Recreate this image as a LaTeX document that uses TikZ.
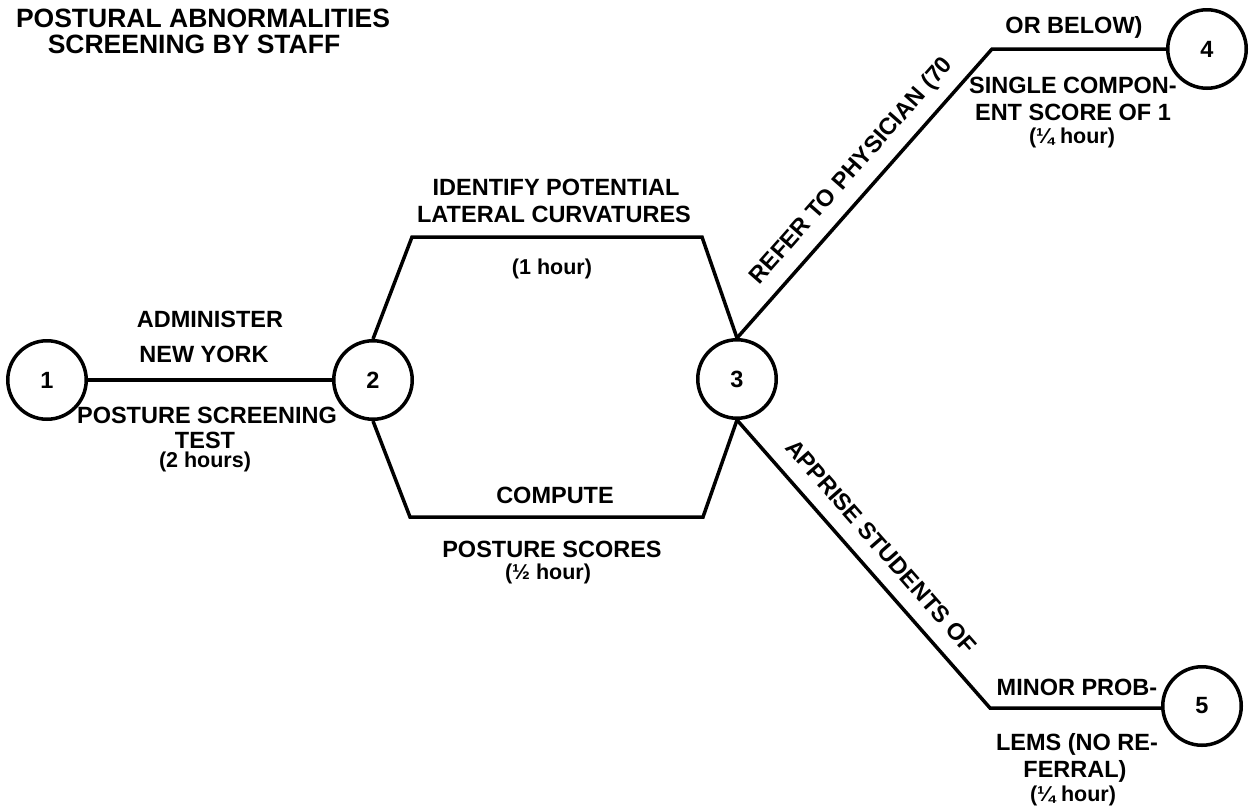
\documentclass[tikz,border=0pt]{standalone}
\usepackage{fontspec}
\setmainfont{Liberation Sans}
\usetikzlibrary{calc}
\begin{document}
\begin{tikzpicture}[x=1pt,y=-1pt,
  every node/.style={font=\bfseries\fontsize{23.5}{26}\selectfont, inner sep=0pt},
  lbl/.style={anchor=base},
  hrs/.style={anchor=base, font=\bfseries\fontsize{21.5}{24}\selectfont},
  ttl/.style={anchor=base, font=\bfseries\fontsize{26.5}{30}\selectfont},
  event/.style={draw, circle, line width=3.5pt, minimum size=78.5pt, inner sep=0pt},
  act/.style={line width=3.5pt, line join=miter}]
\useasboundingbox (0,0) rectangle (1254,807);

% title
\node[ttl] (t1) at (203,27) {POSTURAL ABNORMALITIES};
\node[ttl] (t2) at (194,53) {SCREENING BY STAFF};

% events
\node[event] (n1) at (47,380) {1};
\node[event] (n2) at (373,380) {2};
\node[event] (n3) at (737,379) {3};
\node[event] (n4) at (1207,49) {4};
\node[event] (n5) at (1202,706) {5};

% bends of the activity lines
\coordinate (tl) at (412,237);
\coordinate (tr) at (702,237);
\coordinate (bl) at (410,517);
\coordinate (br) at (703,517);
\coordinate (k4) at (992,49);
\coordinate (k5) at (990,708);

% activities
\draw[act] (n1) -- (n2);
\draw[act] (n2.north) -- (tl) -- (tr) -- (n3.north);
\draw[act] (n2.south) -- (bl) -- (br) -- (n3.south);
\draw[act] (n3.north) -- (k4) -- (k4 -| n4.west);
\draw[act] (n3.south) -- (k5) -- (k5 -| n5.west);

% activity 1-2
\node[lbl] (a1) at (210,327) {ADMINISTER};
\node[lbl] (a2) at (204,362) {NEW YORK};
\node[lbl] (a3) at (207,423) {POSTURE SCREENING};
\node[lbl] (a4) at (205,448) {TEST};
\node[hrs] (a5) at (205,467) {(2 hours)};

% activity 2-3, upper
\node[lbl] (b1) at (556,195) {IDENTIFY POTENTIAL};
\node[lbl] (b2) at (554,222) {LATERAL CURVATURES};
\node[hrs] (b3) at (552,274) {(1 hour)};

% activity 2-3, lower
\node[lbl] (c1) at (555,503) {COMPUTE};
\node[lbl] (c2) at (552,557) {POSTURE SCORES};
\node[hrs] (c3) at (548,579) {(½ hour)};

% activity 3-4
\coordinate (r1) at ($(n3.north)!201pt!(k4)$);
\node[lbl, rotate=48.6] (rf) at ($(r1)!18pt!90:(k4)$) {REFER TO PHYSICIAN (70};
\node[lbl] (d1) at (1074,33) {OR BELOW)};
\node[lbl] (d2) at (1073,93) {SINGLE COMPON-};
\node[lbl] (d3) at (1073,120) {ENT SCORE OF 1};
\node[hrs] (d4) at (1072,143) {(¼ hour)};

% activity 3-5
\coordinate (r2) at ($(n3.south)!190pt!(k5)$);
\node[lbl, rotate=-48.7] (ap) at ($(r2)!17pt!90:(k5)$) {APPRISE STUDENTS OF};
\node[lbl] (e1) at (1077,695) {MINOR PROB-};
\node[lbl] (e2) at (1077,750) {LEMS (NO RE-};
\node[lbl] (e3) at (1075,777) {FERRAL)};
\node[hrs] (e4) at (1073,801) {(¼ hour)};
\end{tikzpicture}
\end{document}
